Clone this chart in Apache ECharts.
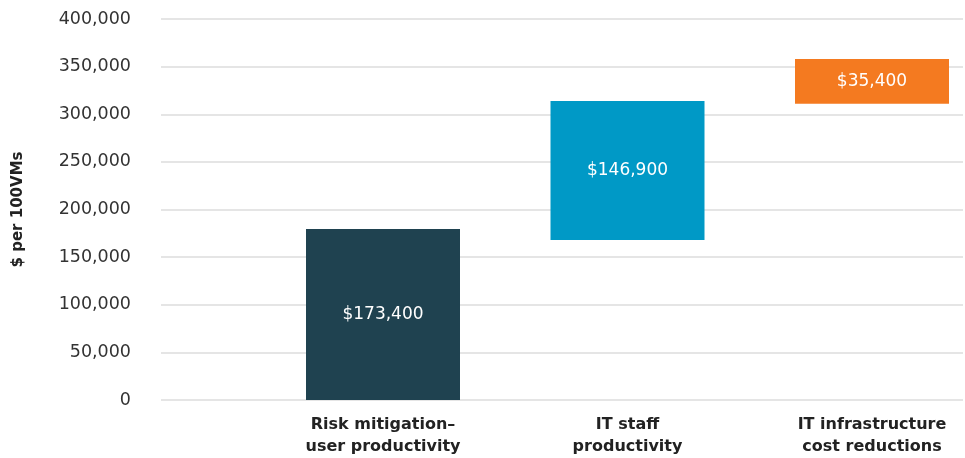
<!DOCTYPE html>
<html>
<head>
<meta charset="utf-8">
<script src="https://cdn.jsdelivr.net/npm/echarts@6/dist/echarts.min.js"></script>
<style>html,body{margin:0;padding:0;background:#fff;}#c{width:965px;height:458px;}</style>
</head>
<body>
<div id="c"></div>
<script>
var categories = ['Risk mitigation–\nuser productivity', 'IT staff\nproductivity', 'IT infrastructure\ncost reductions'];
var baseValues = [0, 168000, 311000];
var barValues = [179500, 146000, 47000];
var barLabels = ['$173,400', '$146,900', '$35,400'];
var barColors = ['#1f4250', '#0099c6', '#f47a20'];
var yTicks = [0, 50000, 100000, 150000, 200000, 250000, 300000, 350000, 400000];

var FONT = 'DejaVu Sans';
var chart = echarts.init(document.getElementById('c'));
chart.setOption({
  animation: false,
  backgroundColor: '#fff',
  grid: [
    {left: 383, right: 93, top: 19, bottom: 58, outerBoundsMode: 'none', containLabel: false},
    {left: 161, right: 2, top: 19, bottom: 58, outerBoundsMode: 'none', containLabel: false}
  ],
  xAxis: [
    {type: 'category', gridIndex: 0, data: categories, boundaryGap: false,
     axisLine: {show: false}, axisTick: {show: false},
     axisLabel: {margin: 14, fontFamily: FONT, fontSize: 16, fontWeight: 'bold', color: '#222', lineHeight: 22, interval: 0}},
    {type: 'value', gridIndex: 1, show: false, min: 0, max: 1}
  ],
  yAxis: [
    {type: 'value', gridIndex: 0, min: yTicks[0], max: yTicks[yTicks.length - 1], interval: 50000, show: false},
    {type: 'value', gridIndex: 1, min: yTicks[0], max: yTicks[yTicks.length - 1], interval: 50000,
     name: '$ per 100VMs', nameLocation: 'middle', nameGap: 135, nameRotate: 90,
     nameTextStyle: {fontFamily: FONT, fontSize: 15, fontWeight: 'bold', color: '#222'},
     axisLine: {show: false}, axisTick: {show: false},
     axisLabel: {margin: 30, fontFamily: FONT, fontSize: 17.5, color: '#333',
       formatter: function (v) { return v.toLocaleString('en-US'); }},
     splitLine: {show: true, lineStyle: {color: '#dcdcdc', width: 1.5}}}
  ],
  series: [
    {type: 'bar', xAxisIndex: 0, yAxisIndex: 0, stack: 'w', barWidth: 154, clip: false,
     itemStyle: {color: 'transparent'}, data: baseValues, silent: true},
    {type: 'bar', xAxisIndex: 0, yAxisIndex: 0, stack: 'w', barWidth: 154, clip: false,
     data: barValues.map(function (v, i) { return {value: v, itemStyle: {color: barColors[i]}}; }),
     label: {show: true, position: 'inside', color: '#fff', fontFamily: FONT, fontSize: 17,
       formatter: function (p) { return barLabels[p.dataIndex]; }}}
  ]
});
</script>
</body>
</html>
